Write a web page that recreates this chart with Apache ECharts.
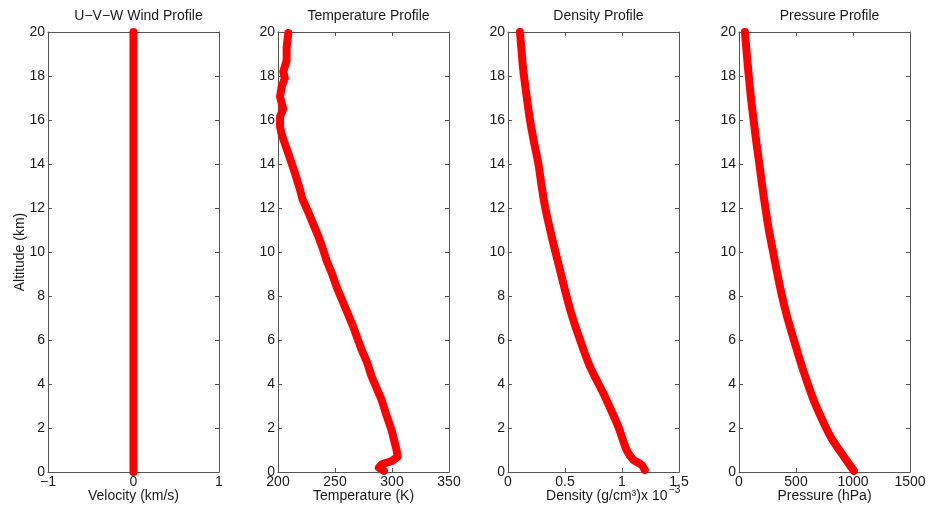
<!DOCTYPE html>
<html><head><meta charset="utf-8">
<script src="https://cdn.jsdelivr.net/npm/echarts@6/dist/echarts.min.js"></script>
<style>html,body{margin:0;padding:0;background:#fff}#c{width:930px;height:508px}</style>
</head><body><div id="c"></div>
<script>
// ---- data ----
var windAlt = [0, 2, 4, 6, 8, 10, 12, 14, 16, 18, 20];
var windVel = [0, 0, 0, 0, 0, 0, 0, 0, 0, 0, 0];

var tempAlt = [0.05, 0.2, 0.35, 0.5, 0.7, 1.0, 1.9, 2.6, 3.27, 4.33, 5.0, 5.55, 6.6, 7.5, 8.4, 9.0, 9.6, 10.2, 10.7, 11.45, 12.0, 12.4, 12.8, 13.58, 14.49, 15.0, 15.4, 15.7, 16.15, 16.5, 17.06, 17.5, 17.9, 18.2, 18.7, 19.3, 19.95];
var tempK   = [293, 288.5, 291, 300, 305, 304, 299.7, 295, 291, 282.2, 278, 273.4, 266, 258.8, 251.5, 247.5, 242.7, 239, 235.5, 229.5, 225, 221.5, 219.5, 214.9, 209, 205.5, 203, 201.8, 201.8, 204.6, 201.8, 203.2, 206, 204.6, 207.6, 207.6, 209];

var densAlt = [0.09, 0.32, 0.55, 1.0, 2.06, 3.0, 3.58, 4.79, 5.6, 6.45, 7.3, 8.27, 9.2, 10.09, 11.0, 12.06, 13.0, 14.03, 15.0, 16, 17.1, 18.27, 19.2, 20];
var densVal = [1.2, 1.173, 1.1, 1.041, 0.968, 0.888, 0.836, 0.719, 0.66, 0.602, 0.55, 0.5, 0.455, 0.412, 0.37, 0.325, 0.295, 0.266, 0.228, 0.193, 0.163, 0.134, 0.118, 0.105];

var presAlt = [0.05, 0.85, 1.5, 2.21, 3.2, 4.18, 5.2, 6.15, 7.1, 8.12, 9.1, 10.09, 11.0, 12.06, 13.0, 14.03, 15.0, 16, 17.1, 18.27, 19.2, 20];
var presVal = [1008, 900, 815, 745, 660, 592, 528, 473, 420, 372, 333, 296, 262, 230, 204, 178, 152, 128, 103, 81, 65, 52];

var altTicks = {min: 0, max: 20, interval: 2};
var panels = [
  {title: 'U\u2212V\u2212W Wind Profile', xname: 'Velocity (km/s)', min: -1, max: 1, interval: 1, xs: windVel, ys: windAlt},
  {title: 'Temperature Profile', xname: 'Temperature (K)', min: 200, max: 350, interval: 50, xs: tempK, ys: tempAlt},
  {title: 'Density Profile', xname: 'Density (g/cm\u00b3)', min: 0, max: 1.5, interval: 0.5, xs: densVal, ys: densAlt},
  {title: 'Pressure Profile', xname: 'Pressure (hPa)', min: 0, max: 1500, interval: 500, xs: presVal, ys: presAlt}
];
// ---- layout ----
var lefts = [48, 278, 508, 739];
var W = 171, TOP = 32, H = 440;
var axisColor = '#555', textColor = '#1a1a1a';
var font = 'Liberation Sans, Arial, Helvetica, sans-serif';
var FS = 14;

function pairs(xs, ys){ var r=[]; for(var i=0;i<xs.length;i++) r.push([xs[i], ys[i]]); return r; }
function fmt(v){ return String(v).replace('-', '\u2212'); }
function tick(){ return {show: true, inside: true, length: 4, lineStyle: {color: axisColor, width: 1}}; }
function line(){ return {show: true, onZero: false, lineStyle: {color: axisColor, width: 1}}; }

var grid=[], xAxis=[], yAxis=[], series=[], title=[];
panels.forEach(function(p, i){
  grid.push({left: lefts[i], top: TOP, width: W, height: H, show: false, containLabel: false, outerBoundsMode: 'none'});
  xAxis.push({type: 'value', gridIndex: i, min: p.min, max: p.max, interval: p.interval, position: 'bottom',
    name: p.xname, nameLocation: 'middle', nameGap: 17.5, nameMoveOverlap: false,
    nameTextStyle: {color: textColor, fontSize: FS, fontFamily: font},
    axisLine: line(), axisTick: tick(), splitLine: {show: false},
    axisLabel: {color: textColor, fontSize: FS, fontFamily: font, margin: 3, formatter: fmt}});
  xAxis.push({type: 'value', gridIndex: i, min: p.min, max: p.max, interval: p.interval, position: 'top',
    axisLine: line(), axisTick: tick(), splitLine: {show: false}, axisLabel: {show: false}});
  yAxis.push({type: 'value', gridIndex: i, min: altTicks.min, max: altTicks.max, interval: altTicks.interval, position: 'left',
    name: i === 0 ? 'Altitude (km)' : '', nameLocation: 'middle', nameGap: 21, nameRotate: 90, nameMoveOverlap: false,
    nameTextStyle: {color: textColor, fontSize: FS, fontFamily: font},
    axisLine: line(), axisTick: tick(), splitLine: {show: false},
    axisLabel: {color: textColor, fontSize: FS, fontFamily: font, margin: 3}});
  yAxis.push({type: 'value', gridIndex: i, min: altTicks.min, max: altTicks.max, interval: altTicks.interval, position: 'right',
    axisLine: line(), axisTick: tick(), splitLine: {show: false}, axisLabel: {show: false}});
  series.push({type: 'line', xAxisIndex: 2*i, yAxisIndex: 2*i, data: pairs(p.xs, p.ys), showSymbol: false, silent: true,
    smooth: i === 1 ? false : 0.3,
    lineStyle: {color: '#ff0000', width: 8, cap: 'round', join: 'round'}});
  title.push({text: p.title, left: lefts[i] + W/2, top: 4, textAlign: 'center',
    textStyle: {color: textColor, fontSize: FS, fontWeight: 'normal', fontFamily: font}});
});
title.push({text: 'x 10', left: 641, top: 489, padding: 0, textStyle: {color: textColor, fontSize: FS, fontWeight: 'normal', fontFamily: font}});
title.push({text: '\u22123', left: 669, top: 485, padding: 0, textStyle: {color: textColor, fontSize: 10, fontWeight: 'normal', fontFamily: font}});

var chart = echarts.init(document.getElementById('c'), null, {renderer: 'canvas'});
chart.setOption({animation: false, backgroundColor: '#fff', title: title, grid: grid, xAxis: xAxis, yAxis: yAxis, series: series});
</script></body></html>
